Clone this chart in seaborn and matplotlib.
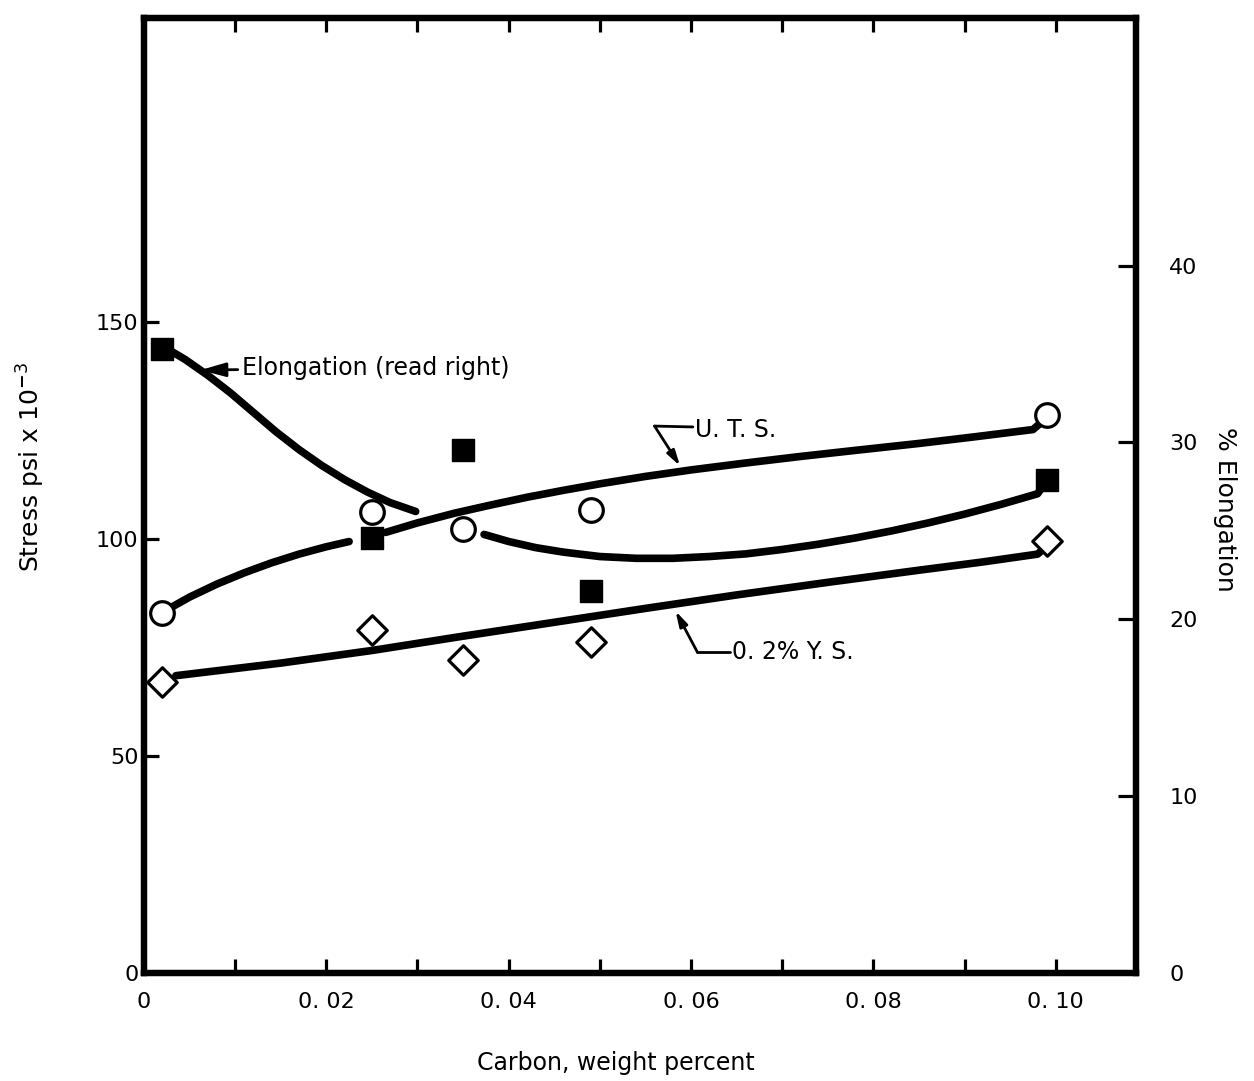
import matplotlib
matplotlib.use("Agg")
import matplotlib.pyplot as plt
import seaborn as sns

# Test results versus carbon content
carbon = [0.002, 0.025, 0.035, 0.049, 0.099]
uts = [83.0, 106.2, 102.3, 106.7, 128.5]          # ksi, left axis
yield_strength = [67.0, 79.1, 72.2, 76.2, 99.6]   # ksi, left axis
elongation = [35.3, 24.6, 29.6, 21.6, 27.9]       # percent, right axis

# Hand-faired trend curves (drawn in pieces, broken around data symbols)
uts_curve_a_x = [0.0022, 0.0050, 0.0080, 0.0110, 0.0140, 0.0170, 0.0200, 0.0225]
uts_curve_a_y = [83.3, 86.6, 89.6, 92.2, 94.5, 96.5, 98.2, 99.4]
uts_curve_b_x = [0.0265, 0.0300, 0.0340, 0.0380, 0.0420, 0.0460, 0.0500, 0.0550,
                 0.0600, 0.0660, 0.0720, 0.0780, 0.0850, 0.0910, 0.0975, 0.0985]
uts_curve_b_y = [101.5, 103.7, 105.9, 107.8, 109.6, 111.2, 112.7, 114.4,
                 115.9, 117.5, 119.0, 120.4, 122.0, 123.5, 125.2, 127.0]

elong_curve_a_x = [0.0022, 0.0045, 0.0070, 0.0095, 0.0120, 0.0145, 0.0170,
                   0.0195, 0.0220, 0.0245, 0.0270, 0.0298]
elong_curve_a_y = [35.4, 34.7, 33.8, 32.8, 31.7, 30.6, 29.6, 28.7, 27.9, 27.2, 26.6, 26.1]
elong_curve_b_x = [0.0373, 0.0400, 0.0430, 0.0460, 0.0500, 0.0540, 0.0580, 0.0620,
                   0.0660, 0.0700, 0.0740, 0.0780, 0.0820, 0.0860, 0.0900, 0.0940,
                   0.0980, 0.0987]
elong_curve_b_y = [24.8, 24.4, 24.05, 23.8, 23.55, 23.45, 23.45, 23.55,
                   23.7, 23.95, 24.25, 24.6, 25.0, 25.45, 25.95, 26.5,
                   27.1, 27.6]

ys_curve_x = [0.0035, 0.0150, 0.0250, 0.0350, 0.0450, 0.0550, 0.0650, 0.0750,
              0.0850, 0.0920, 0.0980, 0.0990]
ys_curve_y = [68.5, 71.4, 74.3, 77.6, 80.8, 84.0, 87.1, 90.0, 92.8, 94.7, 96.5, 98.3]

x_ticks = [0.0, 0.01, 0.02, 0.03, 0.04, 0.05, 0.06, 0.07, 0.08, 0.09, 0.10]
x_tick_labels = ["0", "", "0. 02", "", "0. 04", "", "0. 06", "", "0. 08", "", "0. 10"]
stress_ticks = [0, 50, 100, 150]
elong_ticks = [0, 10, 20, 30, 40]

sns.set_style("white")
plt.rcParams["font.family"] = ["DejaVu Sans"]
plt.rcParams["mathtext.fontset"] = "dejavusans"
plt.rcParams["text.color"] = "black"
plt.rcParams["axes.labelcolor"] = "black"
plt.rcParams["xtick.color"] = "black"
plt.rcParams["ytick.color"] = "black"

fig = plt.figure(figsize=(12.54, 10.81), dpi=100)
ax = fig.add_axes([0.1148, 0.0999, 0.7911, 0.8834])
ax2 = ax.twinx()

line_kw = dict(color="black", linewidth=5.5, sort=False, estimator=None,
               solid_capstyle="round", solid_joinstyle="round")

# Stress curves (left axis)
sns.lineplot(x=uts_curve_a_x, y=uts_curve_a_y, ax=ax, **line_kw)
sns.lineplot(x=uts_curve_b_x, y=uts_curve_b_y, ax=ax, **line_kw)
sns.lineplot(x=ys_curve_x, y=ys_curve_y, ax=ax, **line_kw)

# Elongation curves (right axis)
sns.lineplot(x=elong_curve_a_x, y=elong_curve_a_y, ax=ax2, **line_kw)
sns.lineplot(x=elong_curve_b_x, y=elong_curve_b_y, ax=ax2, **line_kw)

# Data symbols
sns.scatterplot(x=carbon, y=uts, ax=ax, marker="o", s=17 ** 2, color="white",
                edgecolor="black", linewidth=2.3, zorder=5)
sns.scatterplot(x=carbon, y=yield_strength, ax=ax, marker="D", s=15 ** 2, color="white",
                edgecolor="black", linewidth=2.3, zorder=5)
sns.scatterplot(x=carbon, y=elongation, ax=ax2, marker="s", s=16 ** 2, color="black",
                edgecolor="black", linewidth=1.0, zorder=5)

ax.set_xlim(0, 0.1088)
ax.set_ylim(0, 220)
ax2.set_ylim(0, 54)

# Frame
for a in (ax, ax2):
    for sp in a.spines.values():
        sp.set_visible(True)
        sp.set_linewidth(4.5)
        sp.set_color("black")

ax.xaxis.set_major_locator(matplotlib.ticker.FixedLocator(x_ticks))
ax.xaxis.set_major_formatter(matplotlib.ticker.FixedFormatter(x_tick_labels))
ax.set_yticks(stress_ticks)
ax.set_yticklabels([str(v) for v in stress_ticks])
ax2.set_yticks(elong_ticks)
ax2.set_yticklabels([str(v) for v in elong_ticks])

ax.tick_params(axis="x", which="both", direction="in", length=10, width=2.3,
               top=True, bottom=True, labelsize=16, pad=14)
ax.tick_params(axis="y", direction="in", length=11, width=2.3, left=True, right=False,
               labelsize=16, pad=4)
ax2.tick_params(axis="y", direction="in", length=13, width=2.3, right=True, left=False,
                labelsize=16, pad=24)

ax.set_xlabel("Carbon, weight percent", fontsize=17)
ax.xaxis.set_label_coords(0.476, -0.082)
ax.set_ylabel(r"Stress psi x 10$^{\mathbf{-}3}$", fontsize=18)
ax.yaxis.set_label_coords(-0.098, 0.53)
ax2.set_ylabel("% Elongation", fontsize=18, rotation=270, va="center")
ax2.yaxis.set_label_coords(1.09, 0.485)

# Curve labels with leader arrows
arrow = dict(arrowstyle="-|>,head_length=0.9,head_width=0.25", color="black",
             lw=2.0, shrinkA=0, shrinkB=0)

ax.annotate("Elongation (read right)", xy=(0.0062, 138.9), xytext=(0.0108, 139.4),
            fontsize=17, va="center", ha="left",
            arrowprops=dict(arrow, shrinkA=1))

ax.text(0.0604, 125.0, "U. T. S.", fontsize=17, va="center", ha="left")
ax.plot([0.0602, 0.0560], [125.8, 126.0], color="black", lw=2.0)
ax.annotate("", xy=(0.0588, 116.8), xytext=(0.0560, 126.0), arrowprops=arrow)

ax.text(0.0645, 73.9, "0. 2% Y. S.", fontsize=17, va="center", ha="left")
ax.plot([0.0643, 0.0607], [73.9, 73.9], color="black", lw=2.0)
ax.annotate("", xy=(0.0583, 83.4), xytext=(0.0607, 73.9), arrowprops=arrow)

fig.savefig("out.png", dpi=100, facecolor="white")
